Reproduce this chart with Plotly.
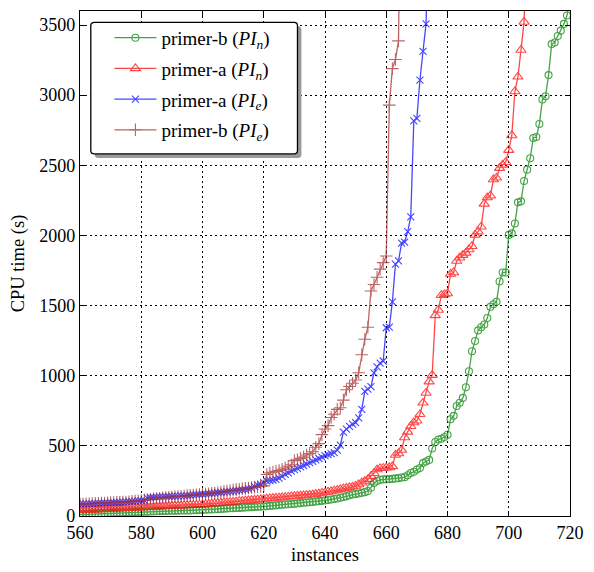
import plotly.graph_objects as go

START = 560

green_y = [
    10, 11, 12, 13, 14, 15, 16, 17, 18, 19,
    20, 21, 22, 23, 24, 25, 26, 27, 28, 29,
    30, 30, 31, 32, 33, 34, 35, 35, 36, 37,
    37, 38, 38, 39, 39, 40, 40, 41, 42, 43,
    44, 45, 46, 47, 48, 49, 50, 52, 53, 55,
    56, 57, 58, 60, 61, 62, 63, 65, 66, 67,
    68, 70, 72, 74, 76, 78, 80, 82, 84, 86,
    88, 90, 92, 94, 96, 98, 100, 103, 106, 108,
    110, 114, 118, 121, 125, 130, 135, 140, 148, 153,
    156, 160, 165, 170, 178, 202, 235, 250, 258, 261,
    262, 263, 265, 268, 270, 274, 277, 290, 307, 315,
    331, 342, 377, 388, 400, 481, 528, 545, 551, 563,
    579, 690, 714, 784, 807, 842, 918, 1032, 1174, 1248,
    1323, 1346, 1365, 1411, 1492, 1510, 1527, 1672, 1736, 1736,
    2004, 2015, 2085, 2236, 2243, 2388, 2469, 2550, 2695, 2702,
    2794, 2969, 2992, 3143, 3364, 3375, 3422, 3460, 3508, 3568,
    3700, 4500,
]

red_y = [
    40, 41, 42, 43, 44, 45, 46, 47, 48, 49,
    50, 51, 52, 53, 54, 55, 56, 57, 58, 59,
    60, 61, 62, 63, 64, 66, 67, 68, 69, 70,
    71, 72, 73, 74, 75, 76, 77, 78, 79, 80,
    81, 83, 85, 87, 89, 91, 93, 95, 97, 99,
    101, 103, 105, 107, 109, 111, 113, 115, 117, 119,
    121, 123, 125, 127, 129, 131, 133, 135, 137, 139,
    141, 143, 145, 147, 149, 151, 153, 156, 160, 164,
    167, 171, 175, 180, 185, 190, 195, 200, 204, 208,
    214, 225, 237, 249, 261, 284, 305, 331, 340, 342,
    344, 346, 354, 435, 446, 470, 560, 600, 640, 667,
    679, 725, 807, 877, 958, 1004, 1430, 1469, 1574, 1580,
    1586, 1725, 1736, 1818, 1841, 1860, 1876, 1900, 1923, 2004,
    2027, 2062, 2225, 2270, 2283, 2399, 2411, 2480, 2503, 2522,
    2608, 2713, 3026, 3131, 3322, 3522, 4200,
]

blue_y = [
    85, 86, 87, 88, 89, 90, 91, 92, 93, 94,
    95, 96, 97, 98, 99, 100, 102, 104, 106, 108,
    110, 112, 128, 130, 132, 134, 136, 137, 138, 139,
    140, 141, 142, 143, 144, 146, 148, 150, 152, 154,
    156, 158, 160, 162, 164, 166, 168, 170, 172, 175,
    178, 181, 184, 187, 190, 194, 198, 210, 220, 226,
    238, 249, 252, 256, 261, 270, 283, 296, 308, 320,
    331, 340, 350, 360, 370, 380, 390, 400, 410, 420,
    430, 437, 444, 451, 470, 505, 598, 620, 639, 655,
    665, 700, 760, 888, 905, 923, 1021, 1063, 1090, 1105,
    1342, 1346, 1527, 1795, 1818, 1946, 1953, 2027, 2132, 2817,
    2835, 3108, 3312, 3508, 4500,
]

brown_y = [
    85, 86, 87, 88, 89, 90, 91, 92, 93, 94,
    95, 96, 97, 98, 99, 100, 102, 104, 106, 108,
    110, 113, 116, 119, 122, 125, 127, 129, 131, 133,
    135, 137, 139, 141, 143, 145, 147, 149, 151, 153,
    155, 157, 159, 161, 163, 166, 170, 174, 178, 182,
    185, 188, 191, 194, 197, 200, 203, 206, 209, 212,
    215, 296, 307, 312, 318, 324, 333, 342, 355, 365,
    395, 400, 411, 420, 435, 445, 458, 490, 516, 580,
    620, 644, 702, 725, 760, 772, 826, 900, 923, 946,
    969, 1021, 1150, 1260, 1346, 1604, 1650, 1702, 1760, 1806,
    1853, 2929, 3189, 3254, 3387, 5000,
]

series_names = [
    "primer-b (<i>PI<sub>n</sub></i>)",
    "primer-a (<i>PI<sub>n</sub></i>)",
    "primer-a (<i>PI<sub>e</sub></i>)",
    "primer-b (<i>PI<sub>e</sub></i>)",
]

x_ticks = [560, 580, 600, 620, 640, 660, 680, 700, 720]
y_ticks = [0, 500, 1000, 1500, 2000, 2500, 3000, 3500]

FONT = "Liberation Serif, Times New Roman, DejaVu Serif, serif"

styles = [
    dict(color="#008000", symbol="circle-open", size=7),
    dict(color="#ff0000", symbol="triangle-up-open", size=9),
    dict(color="#0000ff", symbol="x-thin-open", size=7),
    dict(color="#a52a2a", symbol="cross-thin-open", size=9),
]

fig = go.Figure()
for i, (ys, name, st) in enumerate(zip([green_y, red_y, blue_y, brown_y], series_names, styles)):
    xs = list(range(START, START + len(ys)))
    fig.add_trace(go.Scatter(
        x=xs, y=ys, name=name, mode="lines+markers",
        line=dict(color=st["color"], width=1.3),
        marker=dict(symbol=st["symbol"], size=st["size"], color=st["color"],
                    line=dict(color=st["color"], width=1.1)),
        opacity=0.72, legendgroup=f"g{i}",
    ))

W, H = 594, 572
PL, PR, PT, PB = 80.0, 579.5, 10.0, 525.7   # plot area in page pixels
pw = PR - PL
ph = PB - PT


def px2x(p):
    return (p - PL) / pw


def py2y(p):
    return (PB - p) / ph


def rounded_path(x0p, y0p, x1p, y1p, r):
    X0, X1 = px2x(x0p), px2x(x1p)
    Y0, Y1 = py2y(y0p), py2y(y1p)  # Y0 top, Y1 bottom
    rx, ry = r / pw, r / ph
    return (f"M{X0+rx},{Y0} L{X1-rx},{Y0} Q{X1},{Y0} {X1},{Y0-ry} "
            f"L{X1},{Y1+ry} Q{X1},{Y1} {X1-rx},{Y1} L{X0+rx},{Y1} "
            f"Q{X0},{Y1} {X0},{Y1+ry} L{X0},{Y0-ry} Q{X0},{Y0} {X0+rx},{Y0} Z")


box = (91, 21.7, 301.7, 156)
shapes = [
    dict(type="path", xref="paper", yref="paper", layer="above",
         path=rounded_path(box[0] + 4, box[1] + 4, box[2] + 4, box[3] + 4, 3.5),
         fillcolor="#9a9a9a", line=dict(width=0)),
    dict(type="path", xref="paper", yref="paper", layer="above",
         path=rounded_path(*box, 3.5),
         fillcolor="white", line=dict(color="black", width=1.3)),
]

axis_common = dict(
    showline=True, linecolor="black", linewidth=1.2, mirror="ticks",
    ticks="inside", ticklen=5, tickwidth=1, tickcolor="black",
    showgrid=True, gridcolor="black", gridwidth=1.1, griddash="1.5px,3.5px",
    zeroline=False, tickfont=dict(family=FONT, size=18, color="black"),
)

fig.update_layout(
    width=W, height=H,
    margin=dict(l=PL, r=W - PR, t=PT, b=H - PB),
    paper_bgcolor="white", plot_bgcolor="white",
    font=dict(family=FONT, size=18, color="black"),
    shapes=shapes,
    showlegend=True,
    legend=dict(
        x=px2x(110), y=py2y(18), xanchor="left", yanchor="top",
        bgcolor="rgba(0,0,0,0)", borderwidth=0,
        font=dict(family=FONT, size=19, color="black"),
        itemwidth=42, tracegroupgap=3,
    ),
    xaxis=dict(range=[560, 720], tickvals=x_ticks,
               title=dict(text="instances", standoff=6,
                          font=dict(family=FONT, size=18.5, color="black")),
               **axis_common),
    yaxis=dict(range=[0, 3600], tickvals=y_ticks,
               title=dict(text="CPU time (s)", standoff=9,
                          font=dict(family=FONT, size=18.5, color="black")),
               **axis_common),
)

fig.write_html(
    "out.html",
    config={"displayModeBar": False},
    post_script="document.body.style.margin='0px';",
)
